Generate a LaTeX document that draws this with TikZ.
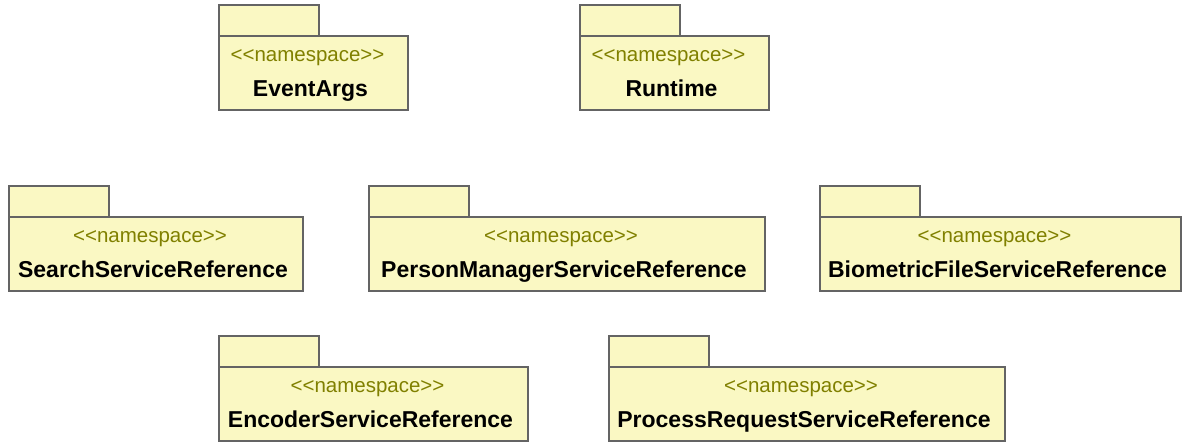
\documentclass[tikz,border=0pt]{standalone}
\usepackage{fontspec}
\usepackage{tikz}
\usetikzlibrary{positioning}
\newfontfamily\umlfont{Liberation Sans}
\definecolor{pkgFill}{RGB}{250,248,195}
\definecolor{pkgLine}{RGB}{100,100,100}
\definecolor{pkgOlive}{RGB}{128,128,0}

\tikzset{
  pkgbody/.style={draw=pkgLine, fill=pkgFill, line width=1.2pt, minimum height=74pt, inner sep=0pt, outer sep=0pt},
  pkgtab/.style={draw=pkgLine, fill=pkgFill, line width=1.2pt, minimum width=100pt, minimum height=31pt, inner sep=0pt, outer sep=0pt, anchor=south west},
  stereo/.style={text=pkgOlive, font=\umlfont\fontsize{20.5}{24}\selectfont, inner sep=0pt, xshift=-6pt},
  pkgname/.style={text=black, font=\umlfont\bfseries\fontsize{23}{27}\selectfont, inner sep=0pt, xshift=-3pt}
}

\begin{document}
\begin{tikzpicture}[x=1pt, y=1pt]
  \useasboundingbox (0,0) rectangle (1184,-443);

  % EventArgs
  \node[pkgbody, anchor=north west, minimum width=189pt] (eventargs) at (219,-36) {};
  \node[pkgtab] (eventargsTab) at (eventargs.north west) {};
  \node[stereo, below=26pt of eventargs.north, anchor=base] {<<namespace>>};
  \node[pkgname, below=61pt of eventargs.north, anchor=base] {EventArgs};

  % Runtime
  \node[pkgbody, anchor=north west, minimum width=189pt] (runtime) at (580,-36) {};
  \node[pkgtab] (runtimeTab) at (runtime.north west) {};
  \node[stereo, below=26pt of runtime.north, anchor=base] {<<namespace>>};
  \node[pkgname, below=61pt of runtime.north, anchor=base] {Runtime};

  % SearchServiceReference
  \node[pkgbody, anchor=north west, minimum width=294pt] (search) at (9,-217) {};
  \node[pkgtab] (searchTab) at (search.north west) {};
  \node[stereo, below=26pt of search.north, anchor=base] {<<namespace>>};
  \node[pkgname, below=61pt of search.north, anchor=base] {SearchServiceReference};

  % PersonManagerServiceReference
  \node[pkgbody, anchor=north west, minimum width=396pt] (person) at (369,-217) {};
  \node[pkgtab] (personTab) at (person.north west) {};
  \node[stereo, below=26pt of person.north, anchor=base] {<<namespace>>};
  \node[pkgname, below=61pt of person.north, anchor=base] {PersonManagerServiceReference};

  % BiometricFileServiceReference
  \node[pkgbody, anchor=north west, minimum width=361pt] (biometric) at (820,-217) {};
  \node[pkgtab] (biometricTab) at (biometric.north west) {};
  \node[stereo, below=26pt of biometric.north, anchor=base] {<<namespace>>};
  \node[pkgname, below=61pt of biometric.north, anchor=base] {BiometricFileServiceReference};

  % EncoderServiceReference
  \node[pkgbody, anchor=north west, minimum width=309pt] (encoder) at (219,-367) {};
  \node[pkgtab] (encoderTab) at (encoder.north west) {};
  \node[stereo, below=26pt of encoder.north, anchor=base] {<<namespace>>};
  \node[pkgname, below=61pt of encoder.north, anchor=base] {EncoderServiceReference};

  % ProcessRequestServiceReference
  \node[pkgbody, anchor=north west, minimum width=396pt] (process) at (609,-367) {};
  \node[pkgtab] (processTab) at (process.north west) {};
  \node[stereo, below=26pt of process.north, anchor=base] {<<namespace>>};
  \node[pkgname, below=61pt of process.north, anchor=base] {ProcessRequestServiceReference};
\end{tikzpicture}
\end{document}
